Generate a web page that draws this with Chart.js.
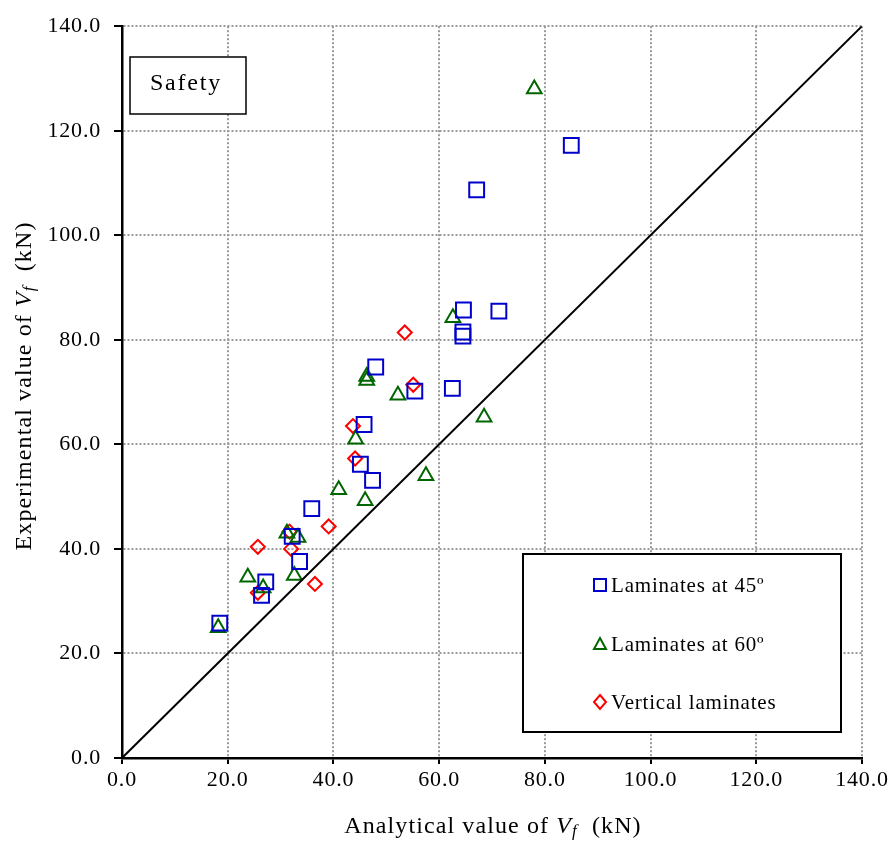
<!DOCTYPE html>
<html>
<head>
<meta charset="utf-8">
<script src="https://cdn.jsdelivr.net/npm/chart.js@4.4.1/dist/chart.umd.min.js"></script>
<style>
  html, body { margin: 0; padding: 0; background: #fff; }
</style>
</head>
<body>
<canvas id="chart" width="894" height="848"></canvas>
<script>
// analytical (x) vs experimental (y) values of Vf, kN
const lam45X = [18.5, 26.4, 27.2, 33.6, 32.2, 35.9, 45.1, 47.4, 45.8, 48.0, 55.4, 62.5, 64.6, 71.3, 64.5, 64.5, 67.1, 85.0];
const lam45Y = [25.8, 31.1, 33.7, 37.6, 42.4, 47.7, 56.2, 53.1, 63.8, 74.8, 70.2, 70.7, 85.7, 85.5, 81.5, 80.7, 108.7, 117.2];

const lam60X = [18.2, 23.8, 26.7, 32.6, 31.2, 33.3, 41.0, 46.0, 44.2, 57.5, 46.3, 46.3, 52.2, 68.5, 62.6, 78.0];
const lam60Y = [24.9, 34.6, 32.5, 34.9, 43.0, 42.2, 51.3, 49.2, 61.0, 54.0, 73.0, 72.2, 69.4, 65.2, 84.2, 128.0];

const vertX = [25.7, 25.7, 32.0, 31.7, 36.5, 39.1, 44.1, 43.7, 55.1, 53.5];
const vertY = [31.6, 40.4, 40.0, 43.3, 33.3, 44.3, 57.3, 63.5, 71.4, 81.4];

const safetyLineX = [0, 140];
const safetyLineY = [0, 140];

const tickValues = [0, 20, 40, 60, 80, 100, 120, 140];
const seriesNames = ["Laminates at 45º", "Laminates at 60º", "Vertical laminates"];

const SERIF = '"Liberation Serif", "Times New Roman", serif';

const toPoints = (xs, ys) => xs.map((x, i) => ({ x: x, y: ys[i] }));

// a bit of letter spacing, like the original export
const spacingPlugin = {
    id: "spacing",
    beforeDraw(chart) {
        chart.ctx.letterSpacing = "0.8px";
    }
};

// draws the text boxes, legend and the axis titles with italic V_f
const overlayPlugin = {
    id: "overlay",
    afterDraw(chart) {
        const ctx = chart.ctx;
        ctx.save();

        // "Safety" box
        ctx.fillStyle = "#fff";
        ctx.fillRect(130, 57, 116, 57);
        ctx.strokeStyle = "#000";
        ctx.lineWidth = 1.5;
        ctx.strokeRect(130, 57, 116, 57);
        ctx.fillStyle = "#000";
        ctx.font = "24px " + SERIF;
        ctx.letterSpacing = "1.8px";
        ctx.textAlign = "left";
        ctx.textBaseline = "middle";
        const sw = ctx.measureText("Safety").width;
        ctx.fillText("Safety", 186 - sw / 2, 84);

        // legend box
        ctx.letterSpacing = "0.8px";
        ctx.fillStyle = "#fff";
        ctx.fillRect(523, 554, 318, 178);
        ctx.lineWidth = 2;
        ctx.strokeRect(523, 554, 318, 178);
        const colors = ["#0000cc", "#006600", "#ff0000"];
        const rows = [585, 644, 702];
        ctx.font = "21px " + SERIF;
        rows.forEach((ry, i) => {
            ctx.strokeStyle = colors[i];
            ctx.lineWidth = 2;
            ctx.beginPath();
            if (i === 0) {
                ctx.rect(594, ry - 6, 12, 12);
            } else if (i === 1) {
                ctx.moveTo(600, ry - 6);
                ctx.lineTo(606, ry + 5);
                ctx.lineTo(594, ry + 5);
                ctx.closePath();
            } else {
                ctx.moveTo(600, ry - 7);
                ctx.lineTo(606, ry);
                ctx.lineTo(600, ry + 7);
                ctx.lineTo(594, ry);
                ctx.closePath();
            }
            ctx.stroke();
            ctx.fillStyle = "#000";
            ctx.fillText(seriesNames[i], 611, ry + 1);
        });

        // axis titles
        const drawTitle = (before, after) => {
            const parts = [
                { t: before, f: "24px " + SERIF, dy: 0 },
                { t: "V", f: "italic 24px " + SERIF, dy: 0 },
                { t: "f", f: "italic 17px " + SERIF, dy: 5 },
                { t: after, f: "24px " + SERIF, dy: 0 }
            ];
            let total = 0;
            parts.forEach(p => { ctx.font = p.f; p.w = ctx.measureText(p.t).width; total += p.w; });
            let x = -total / 2;
            ctx.fillStyle = "#000";
            parts.forEach(p => { ctx.font = p.f; ctx.fillText(p.t, x, p.dy); x += p.w; });
        };

        ctx.letterSpacing = "1.1px";
        ctx.save();
        ctx.translate(493, 827);
        drawTitle("Analytical value of ", "  (kN)");
        ctx.restore();

        ctx.save();
        ctx.translate(25, 386);
        ctx.rotate(-Math.PI / 2);
        drawTitle("Experimental value of ", "  (kN)");
        ctx.restore();

        ctx.restore();
    }
};

const axisCommon = {
    type: "linear",
    min: 0,
    max: 140,
    afterBuildTicks: scale => { scale.ticks = tickValues.map(v => ({ value: v })); },
    grid: {
        color: "#9a9a9a",
        lineWidth: 2,
        tickColor: "#000",
        tickWidth: 2,
        tickBorderDash: [],
        tickLength: 8
    },
    border: { color: "#000", width: 2.5, dash: [2, 2] },
    ticks: {
        color: "#000",
        font: { family: SERIF, size: 22 },
        callback: v => v.toFixed(1)
    }
};

new Chart(document.getElementById("chart"), {
    type: "scatter",
    data: {
        datasets: [
            {
                type: "line",
                label: "Safety line",
                data: toPoints(safetyLineX, safetyLineY),
                borderColor: "#000",
                borderWidth: 2,
                pointRadius: 0,
                fill: false
            },
            {
                label: seriesNames[0],
                data: toPoints(lam45X, lam45Y),
                pointStyle: "rect",
                pointRadius: 10.5,
                borderColor: "#0000cc",
                backgroundColor: "rgba(0,0,0,0)",
                borderWidth: 2
            },
            {
                label: seriesNames[1],
                data: toPoints(lam60X, lam60Y),
                pointStyle: "triangle",
                pointRadius: 8.5,
                borderColor: "#006600",
                backgroundColor: "rgba(0,0,0,0)",
                borderWidth: 2
            },
            {
                label: seriesNames[2],
                data: toPoints(vertX, vertY),
                pointStyle: "rectRot",
                pointRadius: 7,
                borderColor: "#ff0000",
                backgroundColor: "rgba(0,0,0,0)",
                borderWidth: 2
            }
        ]
    },
    options: {
        responsive: false,
        animation: false,
        devicePixelRatio: 1,
        layout: { padding: { top: 20, right: 32, left: 0, bottom: 0 } },
        plugins: {
            legend: { display: false },
            tooltip: { enabled: false }
        },
        scales: {
            x: Object.assign({}, axisCommon, {
                afterFit: scale => { scale.height = 90; },
                grid: Object.assign({}, axisCommon.grid, { tickLength: 6 }),
                ticks: Object.assign({}, axisCommon.ticks, { padding: 3, maxRotation: 0 })
            }),
            y: Object.assign({}, axisCommon, {
                afterFit: scale => { scale.width = 122; },
                ticks: Object.assign({}, axisCommon.ticks, { padding: 13 })
            })
        }
    },
    plugins: [spacingPlugin, overlayPlugin]
});
</script>
</body>
</html>
